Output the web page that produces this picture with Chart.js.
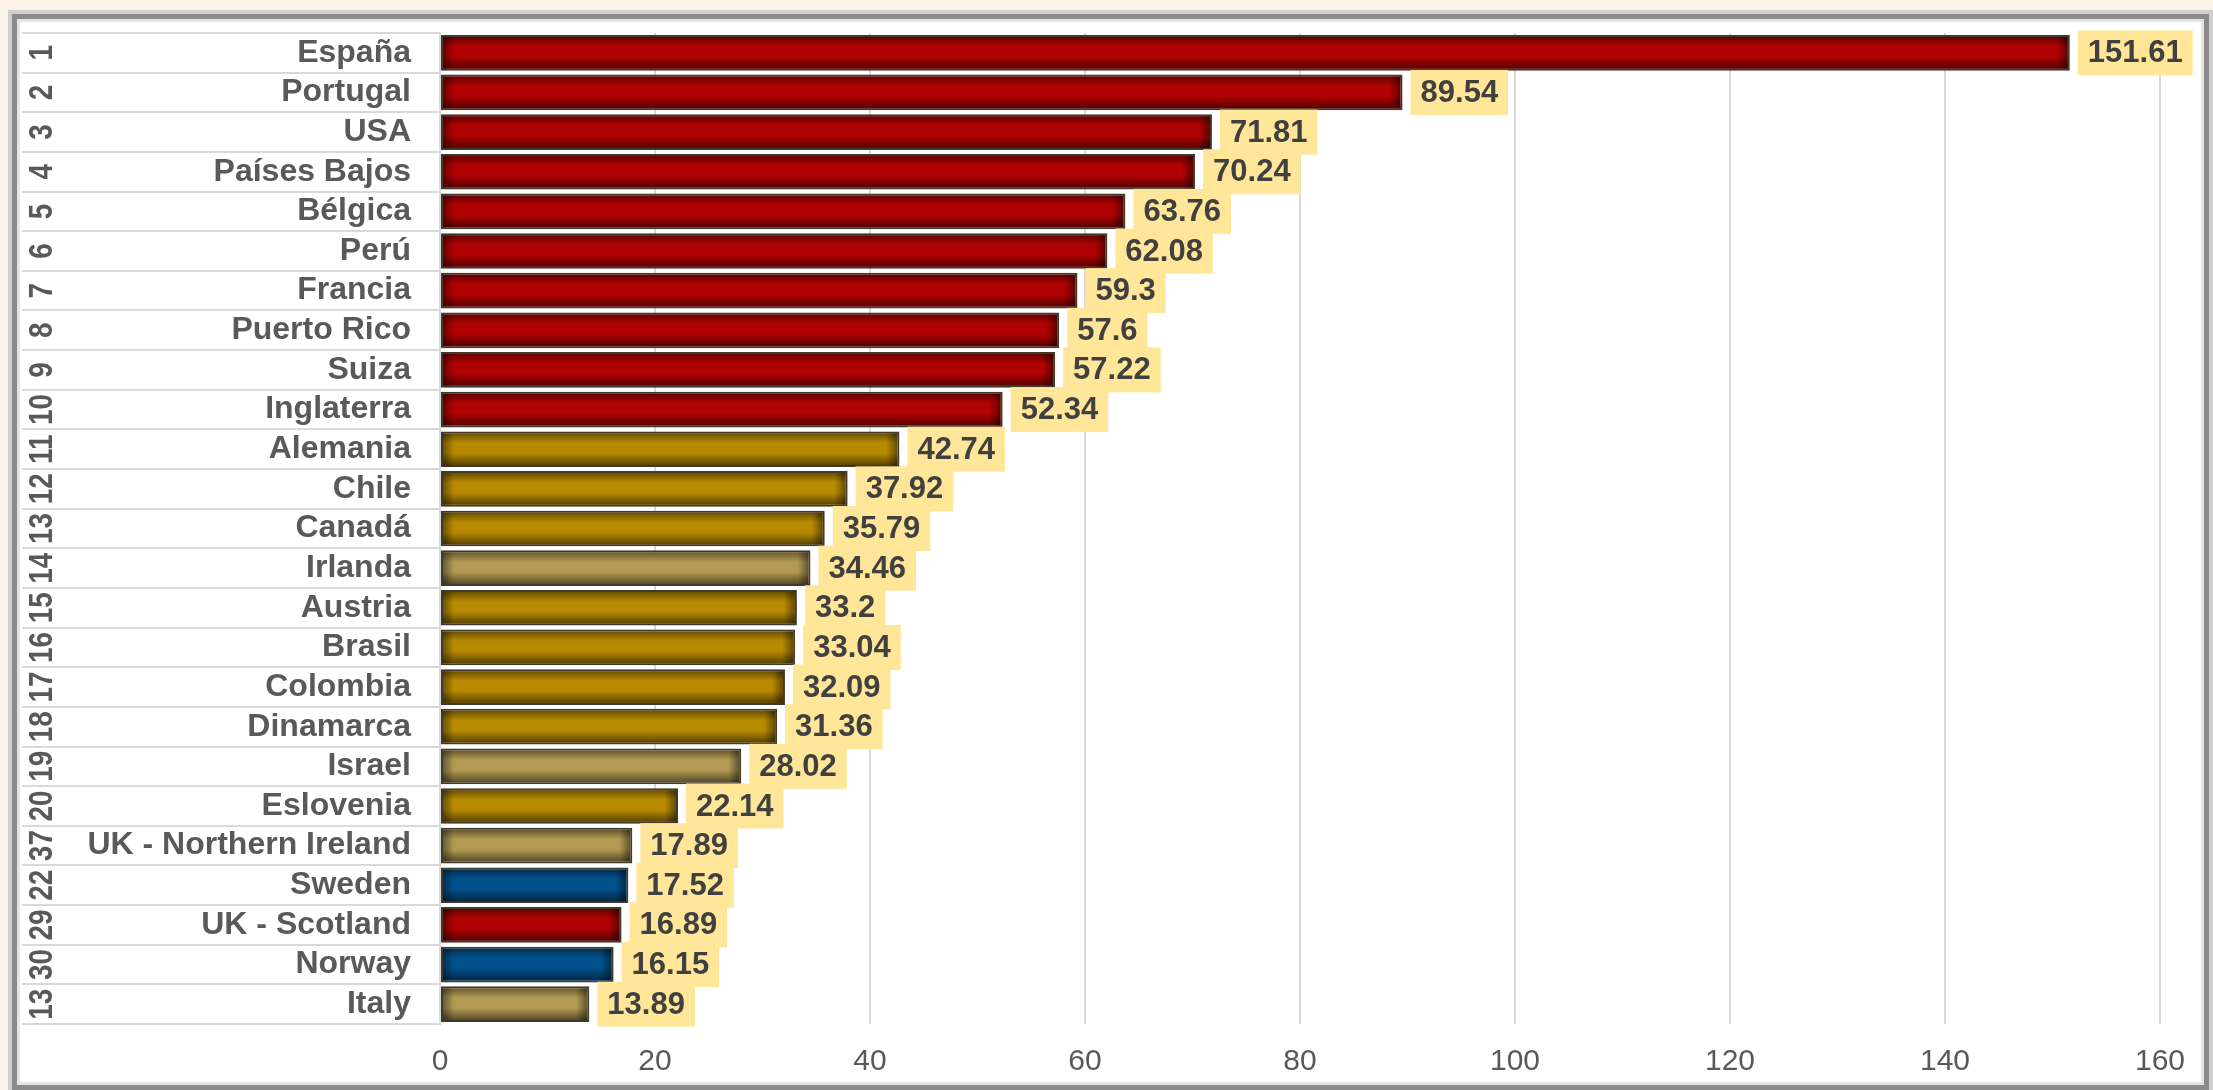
<!DOCTYPE html>
<html>
<head>
<meta charset="utf-8">
<script src="https://cdn.jsdelivr.net/npm/chart.js@4.4.0/dist/chart.umd.min.js"></script>
<style>
  html, body { margin: 0; padding: 0; }
  body { width: 2213px; height: 1090px; background: #fbf3e7; position: relative; overflow: hidden; }
  #frame {
    position: absolute; left: 8px; top: 10px; width: 2205px; height: 1084px; background: #ffffff;
    box-sizing: border-box;
    box-shadow: inset 0 0 0 4px #d0d0d0, inset 0 0 0 9px #8a8a8a, inset 0 0 0 12px #e4e4e4;
  }
  #c { position: absolute; left: 0; top: 0; }
</style>
</head>
<body>
<div id="frame"></div>
<canvas id="c" width="2213" height="1090"></canvas>
<script>
// ---- data ----
const categories = ["España", "Portugal", "USA", "Países Bajos", "Bélgica", "Perú", "Francia", "Puerto Rico", "Suiza", "Inglaterra",
  "Alemania", "Chile", "Canadá", "Irlanda", "Austria", "Brasil", "Colombia", "Dinamarca", "Israel", "Eslovenia",
  "UK - Northern Ireland", "Sweden", "UK - Scotland", "Norway", "Italy"];
const ranks = ["1", "2", "3", "4", "5", "6", "7", "8", "9", "10",
  "11", "12", "13", "14", "15", "16", "17", "18", "19", "20",
  "37", "22", "29", "30", "13"];
const values = [151.61, 89.54, 71.81, 70.24, 63.76, 62.08, 59.3, 57.6, 57.22, 52.34,
  42.74, 37.92, 35.79, 34.46, 33.2, 33.04, 32.09, 31.36, 28.02, 22.14,
  17.89, 17.52, 16.89, 16.15, 13.89];
const groups = ["red", "red", "red", "red", "red", "red", "red", "red", "red", "red",
  "gold", "gold", "gold", "khaki", "gold", "gold", "gold", "gold", "khaki", "gold",
  "khaki", "blue", "red", "blue", "khaki"];
const xTickValues = [0, 20, 40, 60, 80, 100, 120, 140, 160];

// ---- styles ----
const groupColors = { red: "#b00202", gold: "#b88a02", khaki: "#b29a52", blue: "#02518c" };
const FONT = "'Liberation Sans', Arial, Helvetica, sans-serif";
Chart.defaults.font.family = FONT;

const decorPlugin = {
  id: "decor",
  beforeDatasetsDraw(chart) {
    const { ctx, chartArea } = chart;
    const n = categories.length;
    const rowH = (chartArea.bottom - chartArea.top) / n;
    ctx.save();
    ctx.strokeStyle = "#d9d9d9";
    ctx.lineWidth = 2;
    for (let i = 0; i <= n; i++) {
      const y = Math.round(chartArea.top + i * rowH);
      ctx.beginPath();
      ctx.moveTo(22, y);
      ctx.lineTo(chartArea.left, y);
      ctx.stroke();
    }
    // rank numbers (rotated)
    const yScale = chart.scales.y;
    ctx.fillStyle = "#595959";
    ctx.font = "bold 34px " + FONT;
    ctx.textAlign = "center";
    ctx.textBaseline = "middle";
    for (let i = 0; i < n; i++) {
      const y = yScale.getPixelForValue(i);
      ctx.save();
      ctx.translate(42, y);
      ctx.rotate(-Math.PI / 2);
      ctx.scale(0.82, 1);
      ctx.fillText(ranks[i], 0, 1);
      ctx.restore();
    }
    ctx.restore();
  },
  afterDatasetsDraw(chart) {
    const { ctx } = chart;
    const meta = chart.getDatasetMeta(0);
    ctx.save();
    // bevel shading
    meta.data.forEach((bar) => {
      const p = bar.getProps(["x", "y", "base", "height"], true);
      const b = 2;
      const l = Math.min(p.base, p.x) + b, r = Math.max(p.base, p.x) - b;
      const t = p.y - p.height / 2 + b, btm = p.y + p.height / 2 - b;
      const w = r - l, h = btm - t;
      if (w <= 0 || h <= 0) return;
      let g = ctx.createLinearGradient(0, t, 0, btm);
      g.addColorStop(0, "rgba(0,0,0,0.42)");
      g.addColorStop(0.3, "rgba(0,0,0,0.0)");
      g.addColorStop(0.62, "rgba(0,0,0,0.0)");
      g.addColorStop(1, "rgba(0,0,0,0.5)");
      ctx.fillStyle = g;
      ctx.fillRect(l, t, w, h);
      const ew = Math.min(11, w / 2);
      g = ctx.createLinearGradient(l, 0, l + ew, 0);
      g.addColorStop(0, "rgba(0,0,0,0.4)");
      g.addColorStop(1, "rgba(0,0,0,0)");
      ctx.fillStyle = g;
      ctx.fillRect(l, t, ew, h);
      g = ctx.createLinearGradient(r - ew, 0, r, 0);
      g.addColorStop(0, "rgba(0,0,0,0)");
      g.addColorStop(1, "rgba(0,0,0,0.45)");
      ctx.fillStyle = g;
      ctx.fillRect(r - ew, t, ew, h);
    });
    // value labels
    ctx.font = "bold 31px " + FONT;
    ctx.textBaseline = "middle";
    ctx.textAlign = "left";
    meta.data.forEach((bar, i) => {
      const p = bar.getProps(["x", "y"], true);
      const txt = String(values[i]);
      const tw = ctx.measureText(txt).width;
      const bx = p.x + 8, bh = 45, pad = 10;
      ctx.fillStyle = "#ffe699";
      ctx.fillRect(bx, p.y - bh / 2, tw + pad * 2, bh);
      ctx.fillStyle = "#404040";
      ctx.fillText(txt, bx + pad, p.y + 1);
    });
    ctx.restore();
  }
};

new Chart(document.getElementById("c"), {
  type: "bar",
  data: {
    labels: categories,
    datasets: [{
      data: values,
      backgroundColor: groups.map(g => groupColors[g]),
      borderColor: "#403a2c",
      borderWidth: 2,
      borderSkipped: false,
      categoryPercentage: 1.0,
      barPercentage: 0.9
    }]
  },
  options: {
    indexAxis: "y",
    responsive: false,
    devicePixelRatio: 1,
    animation: false,
    layout: { padding: { top: 33, right: 53, left: 0, bottom: 0 } },
    plugins: { legend: { display: false }, tooltip: { enabled: false } },
    scales: {
      x: {
        type: "linear",
        position: "bottom",
        min: 0,
        max: 160,
        afterBuildTicks: (s) => { s.ticks = xTickValues.map(v => ({ value: v })); },
        afterFit: (s) => { s.height = 66; s.paddingLeft = 0; s.paddingRight = 0; },
        grid: { color: "#d9d9d9", lineWidth: 2, drawTicks: false },
        border: { display: false },
        ticks: { color: "#595959", font: { size: 30 }, padding: 20 }
      },
      y: {
        type: "category",
        afterFit: (s) => { s.width = 440; s.paddingTop = 0; s.paddingBottom = 0; },
        grid: { display: false, drawTicks: false },
        border: { display: true, color: "#d9d9d9", width: 2 },
        ticks: { color: "#595959", font: { size: 32, weight: "bold" }, padding: 29, autoSkip: false }
      }
    }
  },
  plugins: [decorPlugin]
});
</script>
</body>
</html>
